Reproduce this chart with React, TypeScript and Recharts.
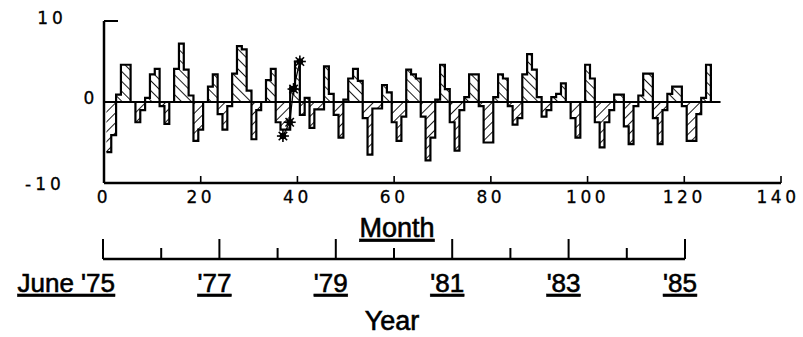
import React from 'react';
import { ComposedChart, Area, Scatter, Line, XAxis, YAxis, ReferenceLine } from 'recharts';

// monthly anomaly values (month index 0..124)
const anomaly = [
  -6.2, -4.1, 0.9, 4.6, 4.6, 0, -2.5, -1.0, 0.5, 3.4,
  4.1, -0.5, -2.7, 0, 4.1, 7.2, 4.0, 0.8, -4.8, -3.4,
  0, 1.9, 3.4, -1.5, -3.4, -0.5, 3.5, 6.9, 6.5, 1.4,
  -4.6, -1.0, 0, 2.7, 4.1, -2.5, -3.4, -3.4, 1.8, 5.0,
  -1.6, 0.5, -3.2, -0.9, -0.9, 4.4, 1.0, -1.6, -4.4, 0.3,
  2.9, 4.1, 2.6, -2.0, -6.5, -0.8, -0.8, 2.1, 1.2, -2.5,
  -4.8, -1.8, 4.0, 3.4, 2.9, -1.8, -7.2, -4.4, 0.3, 4.6,
  1.6, -2.5, -6.0, -1.0, 0.6, 3.4, 3.4, -0.5, -5.0, -5.0,
  0.6, 3.4, 2.9, -0.5, -2.8, -2.0, 3.4, 5.9, 4.0, 0.6,
  -1.8, -1.0, 0.6, 1.0, 2.3, 0, -2.0, -4.4, 0, 4.6,
  2.9, -2.5, -5.6, -2.5, -1.0, 0.9, 0.9, -3.0, -5.2, -0.5,
  0.8, 3.5, 3.5, -2.0, -5.2, -1.0, 1.0, 1.9, 1.9, -0.5,
  -4.8, -4.8, -1.5, 0.5, 4.6,
];
const monthStart = 0.5;
const zeroLineEnd = 127.5;

const monthTicks = [0, 20, 40, 60, 80, 100, 120, 140];
const valueTicks = [-10, 0, 10];

const starMonths = [37, 38.4, 39.2, 40.5];
const starValues = [-4.2, -2.5, 1.6, 5.0];

const yearTickMonths = [0, 12, 24, 36, 48, 60, 72, 84, 96, 108, 120];
const yearTickLabels = ["June '75", '', "'77", '', "'79", '', "'81", '', "'83", '', "'85"];

const rows = anomaly.map((v, i) => ({ m: i + monthStart, pos: Math.max(v, 0), neg: Math.min(v, 0) }));
rows.push({ m: anomaly.length + monthStart, pos: 0, neg: 0 });

const stars = starMonths.map((m, i) => ({ m, s: starValues[i] }));
const yearRows = yearTickMonths.map((m) => ({ m, z: 0 }));

const tickFont = 'DejaVu Sans, sans-serif';
const labelFont = 'Liberation Sans, Arial, sans-serif';

const MonthTick = (props: any) => {
  const { x, y, payload } = props;
  const last = payload.value === 140;
  return (
    <g>
      <line x1={x} y1={y} x2={x} y2={y - 7} stroke="#000" strokeWidth={1.6} />
      <text x={last ? x - 3 : x} y={y + 20} textAnchor="middle" fontFamily={tickFont} fontSize={17} letterSpacing={3.5} fill="#000" stroke="#000" strokeWidth={0.3}>
        {payload.value}
      </text>
    </g>
  );
};

const ValueTick = (props: any) => {
  const { x, y, payload } = props;
  const v = payload.value;
  const dx = v === 10 ? -52 : v === 0 ? -13 : -59;
  const dy = v === 10 ? 3 : v === 0 ? 2 : 7;
  return (
    <g>
      {v === 10 && <line x1={x} y1={y} x2={x + 14} y2={y} stroke="#000" strokeWidth={2} />}
      <text x={x + dx} y={y + dy} textAnchor="middle" fontFamily={tickFont} fontSize={17} letterSpacing={4} fill="#000" stroke="#000" strokeWidth={0.3}>
        {v}
      </text>
    </g>
  );
};

const YearTick = (props: any) => {
  const { x, y, payload } = props;
  const i = yearTickMonths.indexOf(payload.value);
  const label = yearTickLabels[i] || '';
  const len = label ? 20 : 11;
  return (
    <g>
      <line x1={x} y1={y} x2={x} y2={y - len} stroke="#000" strokeWidth={2} />
      {label && (
        <text
          x={i === 0 ? x + 12 : x - 5}
          y={y + 33}
          textAnchor={i === 0 ? 'end' : 'middle'}
          fontFamily={labelFont}
          fontSize={26}
          textDecoration="underline"
          fill="#000"
          stroke="#000"
          strokeWidth={0.6}
        >
          {label}
        </text>
      )}
    </g>
  );
};

const Asterisk = (props: any) => {
  const { cx, cy } = props;
  if (cx == null || cy == null) return null;
  const r = 6;
  const d = r * 0.7;
  return (
    <g stroke="#000" strokeWidth={1.6}>
      <line x1={cx - r} y1={cy} x2={cx + r} y2={cy} />
      <line x1={cx} y1={cy - r} x2={cx} y2={cy + r} />
      <line x1={cx - d} y1={cy - d} x2={cx + d} y2={cy + d} />
      <line x1={cx - d} y1={cy + d} x2={cx + d} y2={cy - d} />
      <circle cx={cx} cy={cy} r={2.5} fill="#000" />
    </g>
  );
};

export default function App() {
  return (
    <div style={{ position: 'absolute', left: 0, top: 0, width: 803, height: 337, background: '#fff', overflow: 'hidden' }}>
      <div style={{ position: 'absolute', left: 0, top: 0 }}>
        <ComposedChart width={803} height={337} data={rows} margin={{ top: 21, right: 22, bottom: 124, left: 44 }}>
          <defs>
            <pattern id="hatchPos" patternUnits="userSpaceOnUse" width={7} height={7} patternTransform="rotate(-45)">
              <line x1={0} y1={0} x2={0} y2={7} stroke="#000" strokeWidth={1.8} />
            </pattern>
            <pattern id="hatchNeg" patternUnits="userSpaceOnUse" width={7} height={7} patternTransform="rotate(45)">
              <line x1={0} y1={0} x2={0} y2={7} stroke="#000" strokeWidth={1.8} />
            </pattern>
          </defs>
          <XAxis
            dataKey="m"
            type="number"
            domain={[0, 140]}
            ticks={monthTicks}
            interval={0}
            tickSize={0}
            tickMargin={0}
            tickLine={false}
            tick={MonthTick}
            axisLine={{ stroke: '#000', strokeWidth: 2.5 }}
            height={30}
          />
          <YAxis
            type="number"
            domain={[-10, 10]}
            ticks={valueTicks}
            interval={0}
            width={60}
            tickSize={0}
            tickMargin={0}
            tickLine={false}
            tick={ValueTick}
            axisLine={{ stroke: '#000', strokeWidth: 2.5 }}
          />
          <ReferenceLine segment={[{ x: 0, y: 0 }, { x: zeroLineEnd, y: 0 }]} stroke="#000" strokeWidth={2} />
          <Area
            type="stepAfter"
            dataKey="pos"
            baseValue={0}
            stroke="#000"
            strokeWidth={2.2}
            fill="url(#hatchPos)"
            fillOpacity={1}
            dot={false}
            activeDot={false}
            isAnimationActive={false}
          />
          <Area
            type="stepAfter"
            dataKey="neg"
            baseValue={0}
            stroke="#000"
            strokeWidth={2.2}
            fill="url(#hatchNeg)"
            fillOpacity={1}
            dot={false}
            activeDot={false}
            isAnimationActive={false}
          />
          <Scatter
            data={stars}
            dataKey="s"
            line={{ stroke: '#000', strokeWidth: 1.2 }}
            shape={Asterisk}
            isAnimationActive={false}
          />
        </ComposedChart>
      </div>
      <div style={{ position: 'absolute', left: 0, top: 0 }}>
        <ComposedChart width={803} height={337} data={yearRows} margin={{ top: 240, right: 118, bottom: 18, left: 103 }}>
          <XAxis
            dataKey="m"
            type="number"
            domain={[0, 120]}
            ticks={yearTickMonths}
            interval={0}
            tickSize={0}
            tickMargin={0}
            tickLine={false}
            tick={YearTick}
            axisLine={{ stroke: '#000', strokeWidth: 2.5 }}
            height={60}
          />
          <YAxis hide domain={[0, 1]} />
          <Line dataKey="z" stroke="none" dot={false} activeDot={false} isAnimationActive={false} />
        </ComposedChart>
      </div>
      <svg width={803} height={337} style={{ position: 'absolute', left: 0, top: 0, pointerEvents: 'none' }}>
        <text x={397} y={237} textAnchor="middle" fontFamily={labelFont} fontSize={27} textDecoration="underline" fill="#000" stroke="#000" strokeWidth={0.6}>
          Month
        </text>
        <text x={392} y={330} textAnchor="middle" fontFamily={labelFont} fontSize={27} fill="#000" stroke="#000" strokeWidth={0.6}>
          Year
        </text>
      </svg>
    </div>
  );
}
